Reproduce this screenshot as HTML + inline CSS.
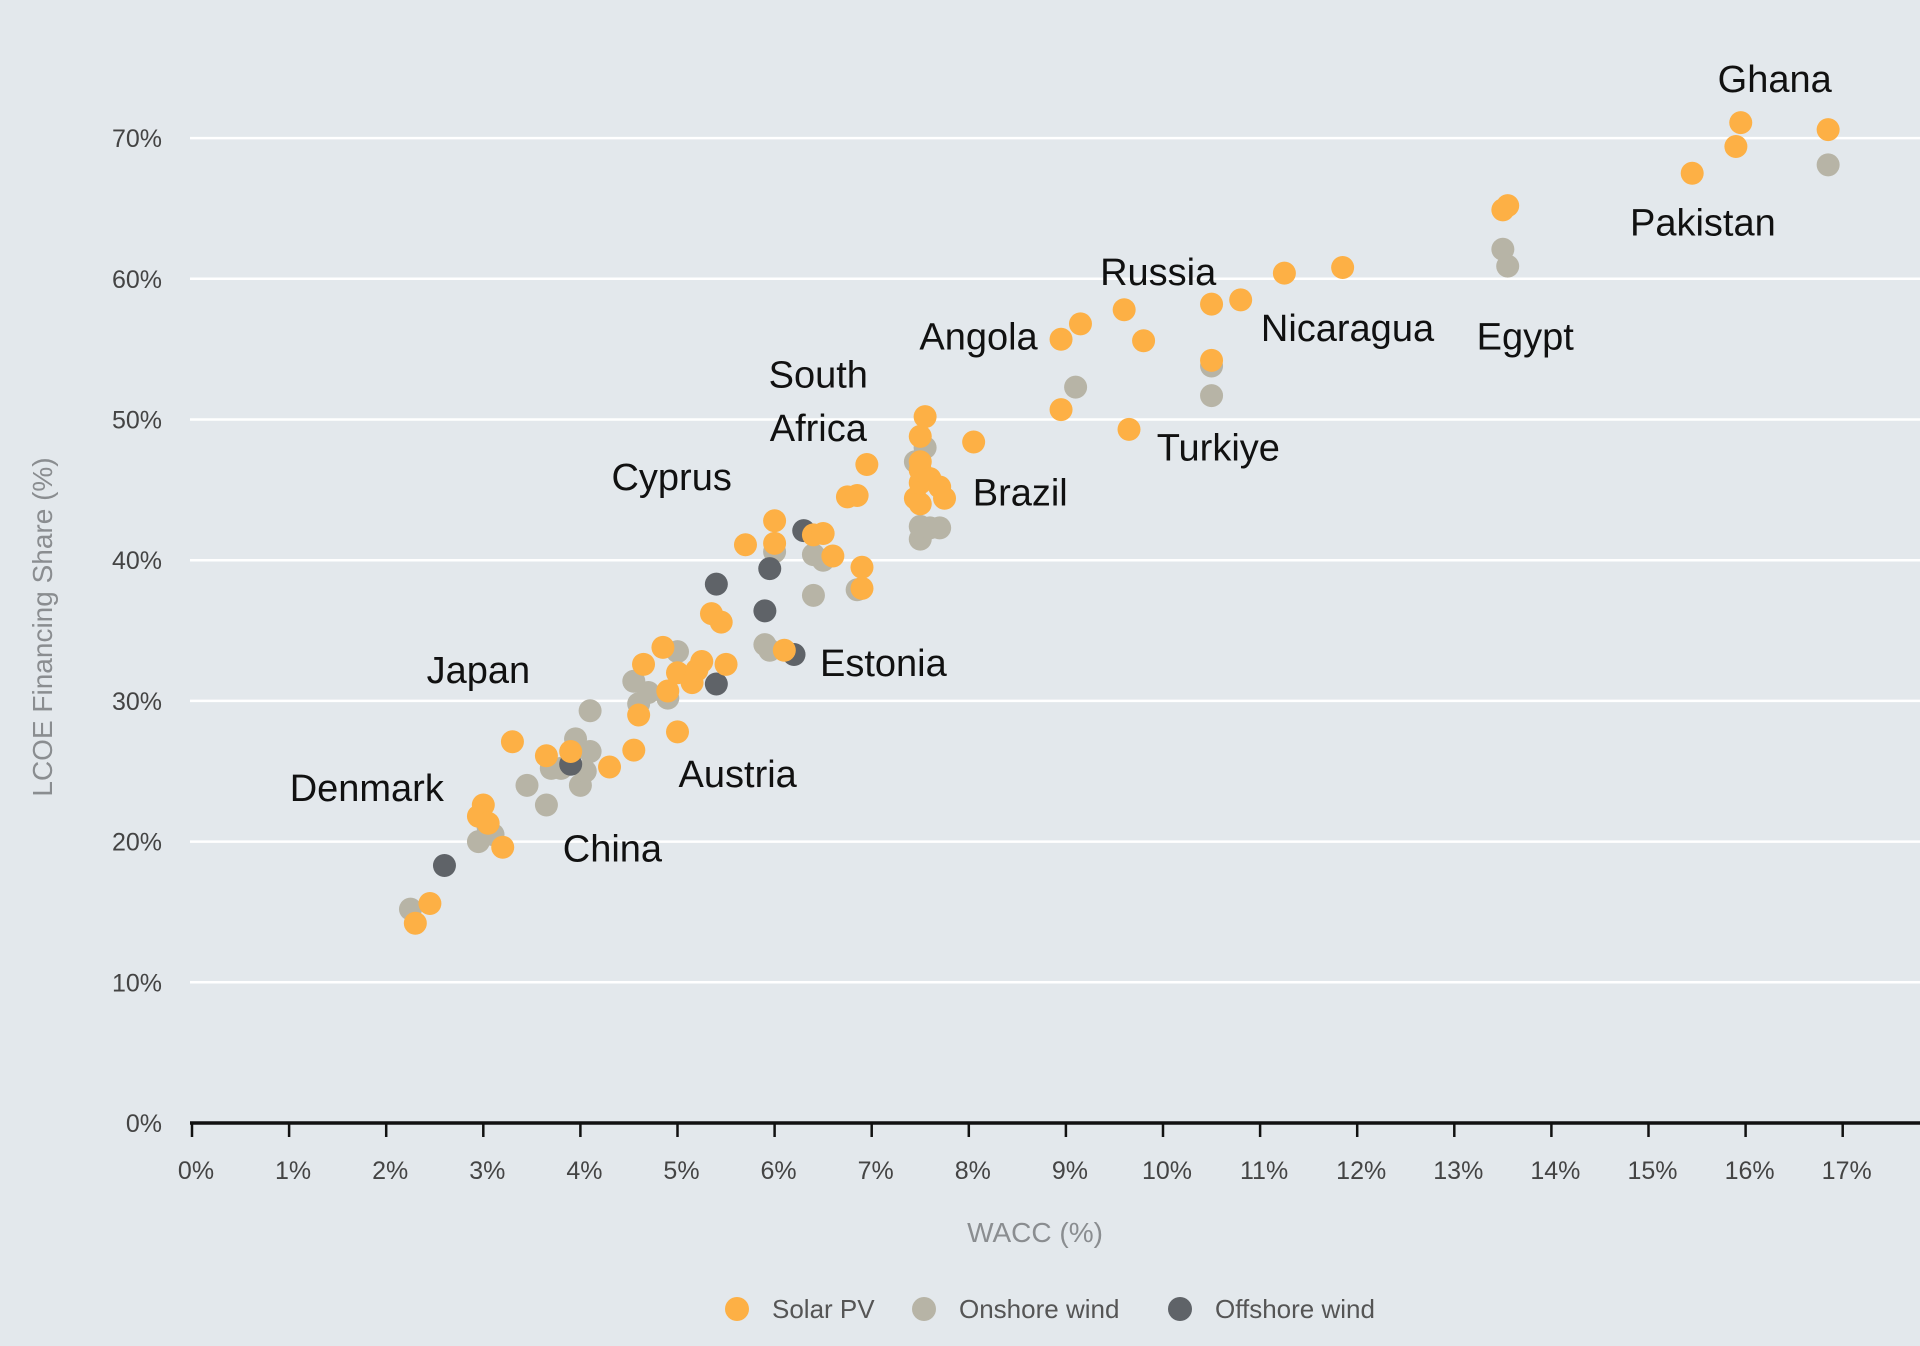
<!DOCTYPE html>
<html><head><meta charset="utf-8"><style>
html,body{margin:0;padding:0;background:#e3e8ec;}
svg{display:block;font-family:"Liberation Sans",sans-serif;}
</style></head><body>
<svg id="chart" width="1920" height="1346" viewBox="0 0 1920 1346" xmlns="http://www.w3.org/2000/svg">
<rect width="1920" height="1346" fill="#e3e8ec"/>
<g id="grid"></g>
<g id="yticks"></g>
<g id="xaxis"></g>
<g id="points"></g>
<g id="labels"></g>
<text x="1035" y="1242" text-anchor="middle" font-size="28" fill="#8a8d90">WACC (%)</text>
<text transform="translate(52,627) rotate(-90)" text-anchor="middle" font-size="28" fill="#8a8d90">LCOE Financing Share (%)</text>
<g>
<g><circle cx="737" cy="1309" r="12" fill="#fdb045"/><text x="772" y="1318" font-size="26" fill="#555">Solar PV</text></g>
<g><circle cx="924" cy="1309" r="12" fill="#b7b4a6"/><text x="959" y="1318" font-size="26" fill="#555">Onshore wind</text></g>
<g><circle cx="1180" cy="1309" r="12" fill="#5f6368"/><text x="1215" y="1318" font-size="26" fill="#555">Offshore wind</text></g>
</g>
</svg>
<script>
const xTicks=[0,1,2,3,4,5,6,7,8,9,10,11,12,13,14,15,16,17];
const yTicks=[0,10,20,30,40,50,60,70];
const solarX=[2.3,2.45,3.0,2.95,3.05,3.2,3.3,3.65,3.9,4.3,4.55,4.6,4.65,4.85,4.9,5.0,5.0,5.15,5.2,5.25,5.35,5.45,5.5,5.7,6.0,6.0,6.1,6.4,6.5,6.6,6.75,6.85,6.9,6.9,6.95,7.45,7.5,7.5,7.5,7.5,7.5,7.55,7.6,7.7,7.75,8.05,8.95,8.95,9.15,9.6,9.65,9.8,10.5,10.5,10.8,11.25,11.85,13.5,13.55,15.45,15.9,15.95,16.85];
const solarY=[14.2,15.6,22.6,21.8,21.3,19.6,27.1,26.1,26.4,25.3,26.5,29,32.6,33.8,30.7,32,27.8,31.3,32.2,32.8,36.2,35.6,32.6,41.1,42.8,41.2,33.6,41.8,41.9,40.3,44.5,44.6,39.5,38,46.8,44.4,44,45.5,46.4,47,48.8,50.2,45.8,45.2,44.4,48.4,50.7,55.7,56.8,57.8,49.3,55.6,58.2,54.2,58.5,60.4,60.8,64.9,65.2,67.5,69.4,71.1,70.6];
const onshoreX=[2.25,2.95,3.1,3.05,3.45,3.65,3.7,3.8,3.95,4.0,4.05,4.1,4.1,4.55,4.6,4.7,4.9,5.0,5.9,5.95,6.0,6.4,6.5,6.4,6.85,7.45,7.5,7.5,7.55,7.6,7.7,9.1,10.5,10.5,13.5,13.55,16.85];
const onshoreY=[15.2,20,20.5,21,24,22.6,25.2,25.2,27.3,24,25,26.4,29.3,31.4,29.8,30.6,30.2,33.5,34,33.6,40.6,40.4,40,37.5,37.9,47,41.5,42.4,48,42.3,42.3,52.3,53.8,51.7,62.1,60.9,68.1];
const offshoreX=[2.6,3.9,5.4,5.4,5.9,5.95,6.3,6.2];
const offshoreY=[18.3,25.5,38.3,31.2,36.4,39.4,42.1,33.3];
const labelNames=["Ghana","Pakistan","Russia","Nicaragua","Egypt","Angola","South","Africa","Cyprus","Brazil","Turkiye","Japan","Estonia","Denmark","Austria","China"];
const labelX=[16.3,15.56,9.95,11.9,13.73,8.1,6.45,6.45,4.94,8.53,10.57,2.95,7.12,1.8,5.62,4.33];
const labelY=[74.2,64.0,60.5,56.5,55.9,55.9,53.2,49.4,45.9,44.8,48.0,32.2,32.7,23.8,24.8,19.5];
const NS="http://www.w3.org/2000/svg";
const X0=192,XS=97.1,Y0=1123,YS=14.07;
function xs(v){return X0+v*XS;}
function ys(v){return Y0-v*YS;}
function mk(tag,attrs,parent){const e=document.createElementNS(NS,tag);for(const k in attrs)e.setAttribute(k,attrs[k]);parent.appendChild(e);return e;}
const grid=document.getElementById('grid'),yt=document.getElementById('yticks'),xa=document.getElementById('xaxis'),pts=document.getElementById('points'),lb=document.getElementById('labels');
yTicks.forEach(t=>{
 if(t>0){const l=mk('line',{x1:190,x2:1920,y1:ys(t),y2:ys(t),stroke:'#ffffff','stroke-width':2.5},grid);
 
 }
 const tx=mk('text',{x:162,y:ys(t)+9,'text-anchor':'end','font-size':25,fill:'#444'},yt);
 tx.textContent=t+'%';
 
 
});
const ax=mk('line',{x1:190,x2:1920,y1:Y0,y2:Y0,stroke:'#111','stroke-width':3.5},xa);


xTicks.forEach(t=>{
 const tk=mk('line',{x1:xs(t),x2:xs(t),y1:Y0,y2:Y0+14,stroke:'#111','stroke-width':2.5},xa);
 
 
 const tx=mk('text',{x:xs(t)+4,y:Y0+56,'text-anchor':'middle','font-size':25,fill:'#444'},xa);
 tx.textContent=t+'%';
 
 
});
function series(xv,yv,color,name){
 xv.forEach((x,i)=>{
  const c=mk('circle',{cx:xs(x),cy:ys(yv[i]),r:11.5,fill:color},pts);
  
  
 });
}
series(onshoreX,onshoreY,'#b7b4a6','onshore-wind');
series(offshoreX,offshoreY,'#5f6368','offshore-wind');
series(solarX,solarY,'#fdb045','solar-pv');
labelNames.forEach((n,i)=>{
 const t=mk('text',{x:xs(labelX[i]),y:ys(labelY[i])+13,'text-anchor':'middle','font-size':38,fill:'#111'},lb);
 t.textContent=n;
 
 
});
</script>
</body></html>
